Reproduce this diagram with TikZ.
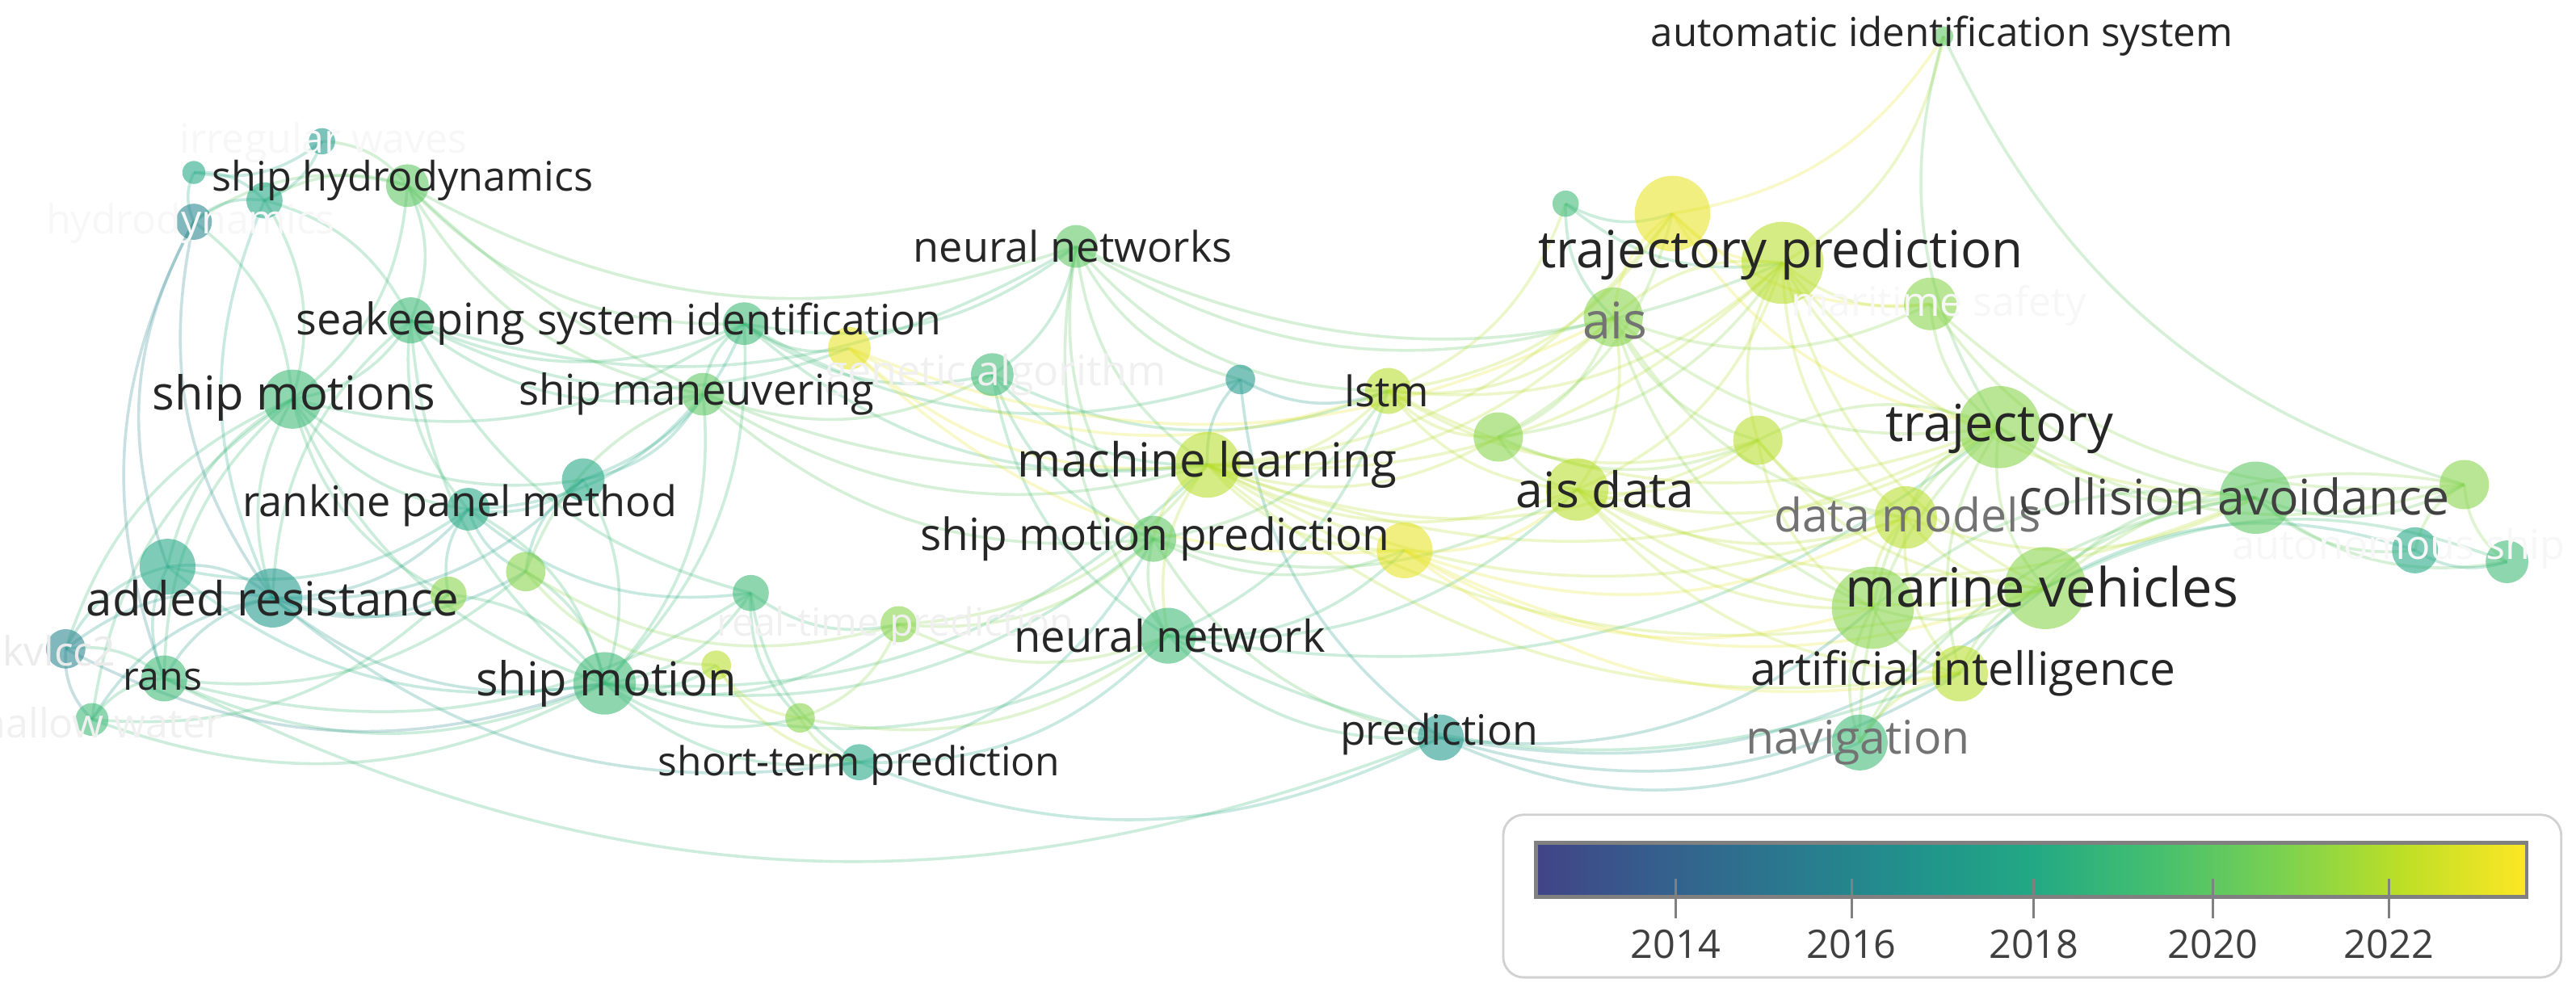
\documentclass[tikz,border=0pt]{standalone}
\usepackage{fontspec}
\setmainfont{Open Sans}
\usetikzlibrary{backgrounds}

% viridis, as the legend
\definecolor{v0}{HTML}{414487}
\definecolor{v1}{HTML}{355F8D}
\definecolor{v2}{HTML}{2A788E}
\definecolor{v3}{HTML}{21918C}
\definecolor{v4}{HTML}{22A884}
\definecolor{v5}{HTML}{44BF70}
\definecolor{v6}{HTML}{7AD151}
\definecolor{v7}{HTML}{BDDF26}
\definecolor{v8}{HTML}{FDE725}
% year colours
\definecolor{c16}{HTML}{25858E}
\definecolor{c17}{HTML}{1F988B}
\definecolor{c18}{HTML}{22A884}
\definecolor{c19}{HTML}{3BB975}
\definecolor{c20}{HTML}{5CC762}
\definecolor{c21}{HTML}{86D449}
\definecolor{c22}{HTML}{B7DE2A}
\definecolor{c23}{HTML}{E6E425}

\pgfdeclarehorizontalshading{viridisbar}{100bp}{color(0bp)=(v0); color(25bp)=(v0);
  color(31.25bp)=(v1); color(37.5bp)=(v2); color(43.75bp)=(v3); color(50bp)=(v4);
  color(56.25bp)=(v5); color(62.5bp)=(v6); color(68.75bp)=(v7); color(75bp)=(v8); color(100bp)=(v8)}

\tikzset{
  kw/.style={circle, inner sep=0pt, minimum size=#1*0.4mm, fill opacity=0.58},
  lab/.style={font=\fontsize{#1}{#1}\selectfont, text=black!85, inner sep=0pt},
  link/.style={draw=#1, draw opacity=0.25, line width=1pt, bend right=24},
  yearlab/.style={font=\fontsize{13.6}{13.6}\selectfont, text=black!75, inner sep=0pt},
}

\begin{document}
\begin{tikzpicture}[x=0.02cm, y=-0.02cm]
\useasboundingbox (0,0) rectangle (1568,603);

% keywords
\node[kw=6, fill=c20] (aissys) at (1183,22) {};
\node[kw=8, fill=c19] (n1) at (953,124) {};
\node[kw=23, fill=c23] (n2) at (1018,130) {};
\node[kw=25, fill=c22] (trpred) at (1085,160) {};
\node[kw=18, fill=c21] (ais) at (982,193) {};
\node[kw=16, fill=c21] (msafe) at (1175,185) {};
\node[kw=25, fill=c21] (traj) at (1217,260) {};
\node[kw=15, fill=c22] (n4) at (1070,268) {};
\node[kw=15, fill=c21] (n5) at (912,266) {};
\node[kw=14, fill=c22] (lstm) at (845,238) {};
\node[kw=20, fill=c22] (ml) at (735,283) {};
\node[kw=19, fill=c22] (aisdata) at (960,298) {};
\node[kw=19, fill=c22] (datam) at (1160,315) {};
\node[kw=22, fill=c20] (coll) at (1373,303) {};
\node[kw=15, fill=c21] (n6) at (1500,295) {};
\node[kw=14, fill=c18] (auton) at (1470,335) {};
\node[kw=13, fill=c19] (n7) at (1526,342) {};
\node[kw=25, fill=c21] (n8) at (1140,370) {};
\node[kw=25, fill=c21] (marveh) at (1245,358) {};
\node[kw=17, fill=c22] (ai) at (1193,410) {};
\node[kw=17, fill=c19] (nav) at (1132,452) {};
\node[kw=14, fill=c17] (pred) at (877,449) {};
\node[kw=17, fill=c23] (n9) at (855,335) {};
\node[kw=14, fill=c20] (smp) at (702,328) {};
\node[kw=17, fill=c19] (nn) at (711,387) {};
\node[kw=9, fill=c17] (n10) at (755,231) {};
\node[kw=13, fill=c20] (nns) at (655,150) {};
\node[kw=13, fill=c19] (gen) at (604,228) {};
\node[kw=13, fill=c23] (n11) at (517,212) {};
\node[kw=13, fill=c19] (sysid) at (453,197) {};
\node[kw=13, fill=c20] (smanv) at (428,240) {};
\node[kw=13, fill=c18] (n12) at (355,292) {};
\node[kw=13, fill=c18] (rank) at (285,310) {};
\node[kw=12, fill=c21] (n13) at (320,348) {};
\node[kw=11, fill=c19] (n14) at (457,361) {};
\node[kw=11, fill=c21] (rtp) at (547,380) {};
\node[kw=9, fill=c22] (n15) at (436,405) {};
\node[kw=9, fill=c21] (n16) at (487,437) {};
\node[kw=11, fill=c18] (stp) at (523,464) {};
\node[kw=19, fill=c19] (smot) at (368,416) {};
\node[kw=18, fill=c17] (addres) at (166,364) {};
\node[kw=17, fill=c18] (n17) at (102,345) {};
\node[kw=11, fill=c21] (n18) at (273,362) {};
\node[kw=14, fill=c19] (rans) at (100,413) {};
\node[kw=12, fill=c16] (kvlcc) at (40,395) {};
\node[kw=10, fill=c19] (shallow) at (56,438) {};
\node[kw=18, fill=c19] (smots) at (178,243) {};
\node[kw=14, fill=c19] (seak) at (250,195) {};
\node[kw=13, fill=c20] (shydro) at (248,113) {};
\node[kw=11, fill=c18] (n19) at (161,122) {};
\node[kw=7, fill=c18] (n20) at (118,105) {};
\node[kw=8, fill=c17] (irreg) at (196,86) {};
\node[kw=11, fill=c16] (hydro) at (118,135) {};

% links
\begin{scope}[on background layer]
\fill[white] (0,0) rectangle (1568,603);
\foreach \b in {seak,addres,rans,n17,kvlcc,shallow,hydro,n19,smot,rank,n12,shydro,sysid,n18}
  \draw[link=c19] (smots.center) to (\b.center);
\foreach \b in {shydro,smot,addres,n19,rank,sysid,smanv,n14,nns,n11}
  \draw[link=c19] (seak.center) to (\b.center);
\foreach \b in {n19,irreg,hydro,smanv,nns,ml,sysid}
  \draw[link=c20] (shydro.center) to (\b.center);
\foreach \b in {irreg,n20,hydro,addres}
  \draw[link=c18] (n19.center) to (\b.center);
\foreach \b in {hydro,irreg}
  \draw[link=c18] (n20.center) to (\b.center);
\foreach \b in {n17,addres,rans}
  \draw[link=c16] (hydro.center) to (\b.center);
\foreach \b in {n17,rans,kvlcc,smot,rank,n18,n12,shallow,n13,stp}
  \draw[link=c17] (addres.center) to (\b.center);
\foreach \b in {kvlcc,rans,rank,smot}
  \draw[link=c18] (n17.center) to (\b.center);
\foreach \b in {kvlcc,shallow,smot,n13,pred,n14}
  \draw[link=c19] (rans.center) to (\b.center);
\foreach \b in {shallow,smot}
  \draw[link=c16] (kvlcc.center) to (\b.center);
\foreach \b in {smot,n18}
  \draw[link=c19] (shallow.center) to (\b.center);
\foreach \b in {rank,n13,n12,stp,n16,n14,sysid,smanv,n18,nn,smp,ml,n15,rtp}
  \draw[link=c19] (smot.center) to (\b.center);
\foreach \b in {n12,n18,n13,smanv,n14}
  \draw[link=c18] (rank.center) to (\b.center);
\foreach \b in {smanv,sysid,n13}
  \draw[link=c18] (n12.center) to (\b.center);
\foreach \b in {smanv,n11,gen,nns,ml,n10}
  \draw[link=c19] (sysid.center) to (\b.center);
\foreach \b in {gen,n13,ml,smp}
  \draw[link=c20] (smanv.center) to (\b.center);
\foreach \b in {n15,rtp}
  \draw[link=c21] (n13.center) to (\b.center);
\foreach \b in {rtp,stp,n16}
  \draw[link=c19] (n14.center) to (\b.center);
\foreach \b in {stp,n16}
  \draw[link=c22] (n15.center) to (\b.center);
\foreach \b in {stp,nn,rtp}
  \draw[link=c21] (n16.center) to (\b.center);
\foreach \b in {smp,nn,ml}
  \draw[link=c21] (rtp.center) to (\b.center);
\foreach \b in {pred,smp,nn}
  \draw[link=c18] (stp.center) to (\b.center);
\foreach \b in {nns,smp,nn,ml,lstm}
  \draw[link=c19] (gen.center) to (\b.center);
\foreach \b in {ml,ais,n9,lstm}
  \draw[link=c23] (n11.center) to (\b.center);
\foreach \b in {ml,lstm,smp,trpred,ais,n10,nn}
  \draw[link=c20] (nns.center) to (\b.center);
\foreach \b in {ml,pred,lstm}
  \draw[link=c17] (n10.center) to (\b.center);
\foreach \b in {lstm,smp,nn,aisdata,ais,trpred,n9,n5,traj,marveh,n4,ai,n2,datam}
  \draw[link=c22] (ml.center) to (\b.center);
\foreach \b in {nn,lstm,n9,pred,aisdata}
  \draw[link=c20] (smp.center) to (\b.center);
\foreach \b in {pred,lstm,n9,traj,ai,aisdata}
  \draw[link=c19] (nn.center) to (\b.center);
\foreach \b in {trpred,ais,aisdata,n5,traj,n2,n1,n4}
  \draw[link=c22] (lstm.center) to (\b.center);
\foreach \b in {aisdata,ai,n8,datam,marveh}
  \draw[link=c23] (n9.center) to (\b.center);
\foreach \b in {nav,ai,n8,marveh}
  \draw[link=c17] (pred.center) to (\b.center);
\foreach \b in {aisdata,ais,trpred,n4,n2}
  \draw[link=c21] (n5.center) to (\b.center);
\foreach \b in {ais,trpred,n4,traj,coll,n8,datam,marveh,ai}
  \draw[link=c22] (aisdata.center) to (\b.center);
\foreach \b in {n2,trpred,ais}
  \draw[link=c19] (n1.center) to (\b.center);
\foreach \b in {trpred,ais,aissys,msafe,traj}
  \draw[link=c23] (n2.center) to (\b.center);
\foreach \b in {ais,msafe,traj,n4,aissys,datam,coll,marveh}
  \draw[link=c22] (trpred.center) to (\b.center);
\foreach \b in {traj,n6}
  \draw[link=c20] (aissys.center) to (\b.center);
\foreach \b in {traj,n4,msafe,datam,n8}
  \draw[link=c21] (ais.center) to (\b.center);
\foreach \b in {traj,coll,n6}
  \draw[link=c21] (msafe.center) to (\b.center);
\foreach \b in {n4,datam,coll,marveh,n8,ai,n6,nav}
  \draw[link=c21] (traj.center) to (\b.center);
\foreach \b in {datam,n8,marveh}
  \draw[link=c22] (n4.center) to (\b.center);
\foreach \b in {marveh,n8,coll,ai}
  \draw[link=c22] (datam.center) to (\b.center);
\foreach \b in {marveh,n6,auton,n7,n8,ai,nav}
  \draw[link=c20] (coll.center) to (\b.center);
\foreach \b in {auton,n7,marveh}
  \draw[link=c21] (n6.center) to (\b.center);
\foreach \b in {n7,marveh}
  \draw[link=c18] (auton.center) to (\b.center);
\draw[link=c19] (n7.center) to (marveh.center);
\foreach \b in {marveh,ai,nav}
  \draw[link=c21] (n8.center) to (\b.center);
\foreach \b in {ai,nav}
  \draw[link=c21] (marveh.center) to (\b.center);
\draw[link=c22] (ai.center) to (nav.center);
\end{scope}

% labels
\node[lab=14, text=black!3] (irregt) at (197,87) {irregular waves};
\node[lab=14, text=black!3] (hydrot) at (116,136) {hydrodynamics};
\node[lab=14, text=black!3] (msafet) at (1180,186) {maritime safety};
\node[lab=14, text=black!8] (kvlcct) at (36,396) {kvlcc2};
\node[lab=14, text=black!6] (shallowt) at (56,440) {shallow water};
\node[lab=14.5, text=black!6] (gent) at (606,228) {genetic algorithm};
\node[lab=13.5, text=black!6] (rtpt) at (545,381) {real-time prediction};
\node[lab=14.1, text=black!3] (autont) at (1460,334) {autonomous ship};
\node[lab=13.8] (aissyst) at (1182,22) {automatic identification system};
\node[lab=17.8] (trpredt) at (1084,155) {trajectory prediction};
\node[lab=17.5, text=black!55] (aist) at (983,195) {ais};
\node[lab=17.7] (trajt) at (1217,261) {trajectory};
\node[lab=14.6] (lstmt) at (844,238) {lstm};
\node[lab=16.3] (mlt) at (735,283) {machine learning};
\node[lab=17] (aisdatat) at (977,298) {ais data};
\node[lab=16, text=black!55] (datamt) at (1161,313) {data models};
\node[lab=17, text=black!75] (collt) at (1360,302) {collision avoidance};
\node[lab=18.7] (marveht) at (1243,357) {marine vehicles};
\node[lab=15.9] (ait) at (1195,410) {artificial intelligence};
\node[lab=16, text=black!55] (navt) at (1131,452) {navigation};
\node[lab=14.5] (predt) at (876,447) {prediction};
\node[lab=15.4] (smpt) at (703,328) {ship motion prediction};
\node[lab=15.2] (nnt) at (712,387) {neural network};
\node[lab=14.6] (nnst) at (653,150) {neural networks};
\node[lab=14.5] (sysidt) at (450,197) {system identification};
\node[lab=14.7] (smanvt) at (424,240) {ship maneuvering};
\node[lab=14.6] (rankt) at (280,308) {rankine panel method};
\node[lab=15.1] (seakt) at (250,197) {seakeeping};
\node[lab=14.1] (shydrot) at (245,110) {ship hydrodynamics};
\node[lab=16.2] (smotst) at (179,242) {ship motions};
\node[lab=16.3] (addrest) at (166,364) {added resistance};
\node[lab=13.5] (ranst) at (99,414) {rans};
\node[lab=16.2] (smott) at (369,416) {ship motion};
\node[lab=13.9] (stpt) at (523,466) {short-term prediction};

% legend
\draw[black!18, fill=white, line width=0.8pt, rounded corners=0.25cm] (915,496) rectangle (1559,595);
\shade[shading=viridisbar] (935,513) rectangle (1538,546);
\draw[black!50, line width=1.2pt] (935,513) rectangle (1538,546);
\foreach \yr/\x in {2014/1020,2016/1127,2018/1238,2020/1347,2022/1454} {
  \draw[black!50, line width=0.9pt] (\x,535) -- (\x,559);
  \node[yearlab] (y\yr) at (\x,575) {\yr};
}
\end{tikzpicture}
\end{document}
